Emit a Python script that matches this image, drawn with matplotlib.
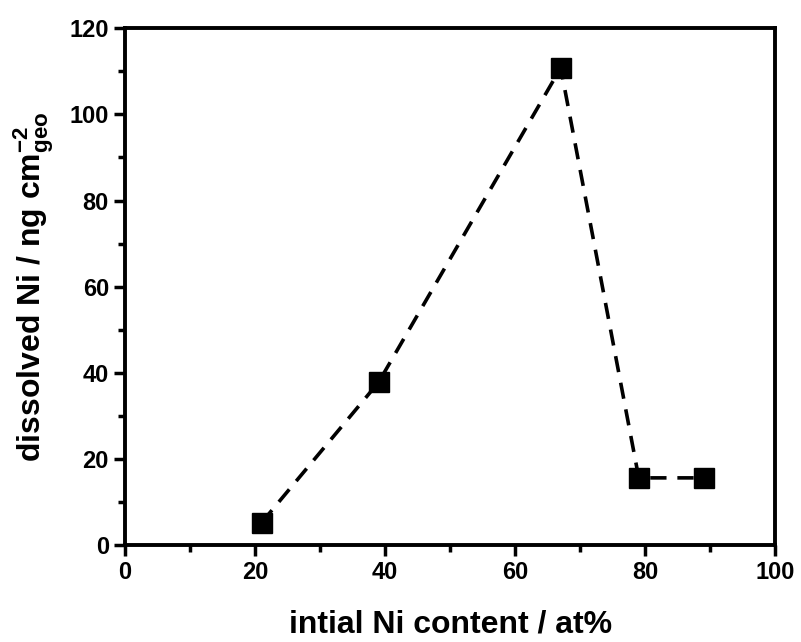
import matplotlib
matplotlib.use("Agg")
import matplotlib.pyplot as plt
from matplotlib.ticker import MultipleLocator

# ======================================================
# DATA
# ======================================================

ni_content = [21, 39, 67, 79, 89]
dissolved_ni = [5.2, 37.8, 110.8, 15.6, 15.6]

x_ticks = [0, 20, 40, 60, 80, 100]
y_ticks = [0, 20, 40, 60, 80, 100, 120]

# ======================================================
# STYLE
# ======================================================

plt.rcParams["font.family"] = ["Liberation Sans", "DejaVu Sans"]
plt.rcParams["font.weight"] = "bold"
plt.rcParams["mathtext.fontset"] = "custom"
plt.rcParams["mathtext.rm"] = "Liberation Sans:bold"
plt.rcParams["mathtext.bf"] = "Liberation Sans:bold"
plt.rcParams["mathtext.default"] = "rm"

fig = plt.figure(figsize=(8.01, 6.42), dpi=100)
ax = fig.add_axes([0.156, 0.151, 0.812, 0.805])

ax.plot(
    ni_content,
    dissolved_ni,
    color="black",
    linestyle=(0, (4.5, 3)),
    linewidth=2.6,
    marker="s",
    markersize=14.5,
    markerfacecolor="black",
    markeredgecolor="black"
)

ax.set_xlim(0, 100)
ax.set_ylim(0, 120)
ax.set_xticks(x_ticks)
ax.set_yticks(y_ticks)
ax.xaxis.set_minor_locator(MultipleLocator(10))
ax.yaxis.set_minor_locator(MultipleLocator(10))

ax.tick_params(which="major", direction="out", length=8, width=2.5,
               labelsize=17, top=False, right=False)
ax.tick_params(which="minor", direction="out", length=5, width=2.5,
               top=False, right=False)

for spine in ax.spines.values():
    spine.set_linewidth(2.8)

ax.set_xlabel("intial Ni content / at%", fontsize=23, fontweight="bold",
              labelpad=18)
ax.set_ylabel(r"dissolved Ni / ng cm$_{geo}^{-2}$", fontsize=23,
              fontweight="bold", labelpad=10)

fig.savefig("out.png", dpi=100)
